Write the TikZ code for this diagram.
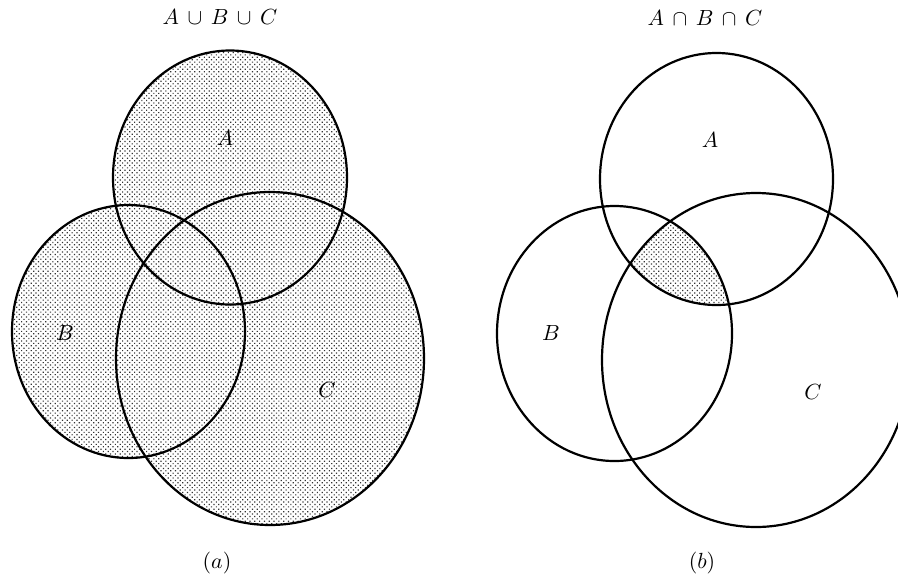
\documentclass[tikz,border=0pt]{standalone}
\usetikzlibrary{patterns.meta}
\begin{document}
\begin{tikzpicture}[x=0.5pt,y=-0.5pt,
  outline/.style={draw=black, line width=1.1pt},
  dotfill/.style={pattern={Dots[radius=0.42pt,distance=1.7pt,angle=45]}, pattern color=black!80},
  lbl/.style={font=\fontsize{11}{13}\selectfont, inner sep=0pt}]
\clip (0,0) rectangle (898,579);
% ---------- (a) union ----------
\fill[dotfill, nonzero rule]
  (230,177.5) ellipse [x radius=117, y radius=127]
  (128.5,331.5) ellipse [x radius=116.5, y radius=126.5]
  (270,358.5) ellipse [x radius=154, y radius=166.5];
\draw[outline] (230,177.5) ellipse [x radius=117, y radius=127];
\draw[outline] (128.5,331.5) ellipse [x radius=116.5, y radius=126.5];
\draw[outline] (270,358.5) ellipse [x radius=154, y radius=166.5];
\node[lbl] (ta) at (220,17) {$A\,\cup\,B\,\cup\,C$};
\node[lbl] (la) at (225,138) {$A$};
\node[lbl] (lb) at (65,333) {$B$};
\node[lbl] (lc) at (327,390) {$C$};
\node[lbl] (capa) at (217,563) {$(a)$};
% ---------- (b) intersection ----------
\begin{scope}
  \clip (716.5,179) ellipse [x radius=116.5, y radius=126];
  \clip (614.5,333.5) ellipse [x radius=117.5, y radius=127.5];
  \fill[dotfill] (756,360) ellipse [x radius=154, y radius=167];
\end{scope}
\draw[outline] (716.5,179) ellipse [x radius=116.5, y radius=126];
\draw[outline] (614.5,333.5) ellipse [x radius=117.5, y radius=127.5];
\draw[outline] (756,360) ellipse [x radius=154, y radius=167];
\node[lbl] (tb) at (705,18) {$A\,\cap\,B\,\cap\,C$};
\node[lbl] (ra) at (710,140) {$A$};
\node[lbl] (rb) at (551,333) {$B$};
\node[lbl] (rc) at (813,392) {$C$};
\node[lbl] (capb) at (702,563) {$(b)$};
\end{tikzpicture}
\end{document}
